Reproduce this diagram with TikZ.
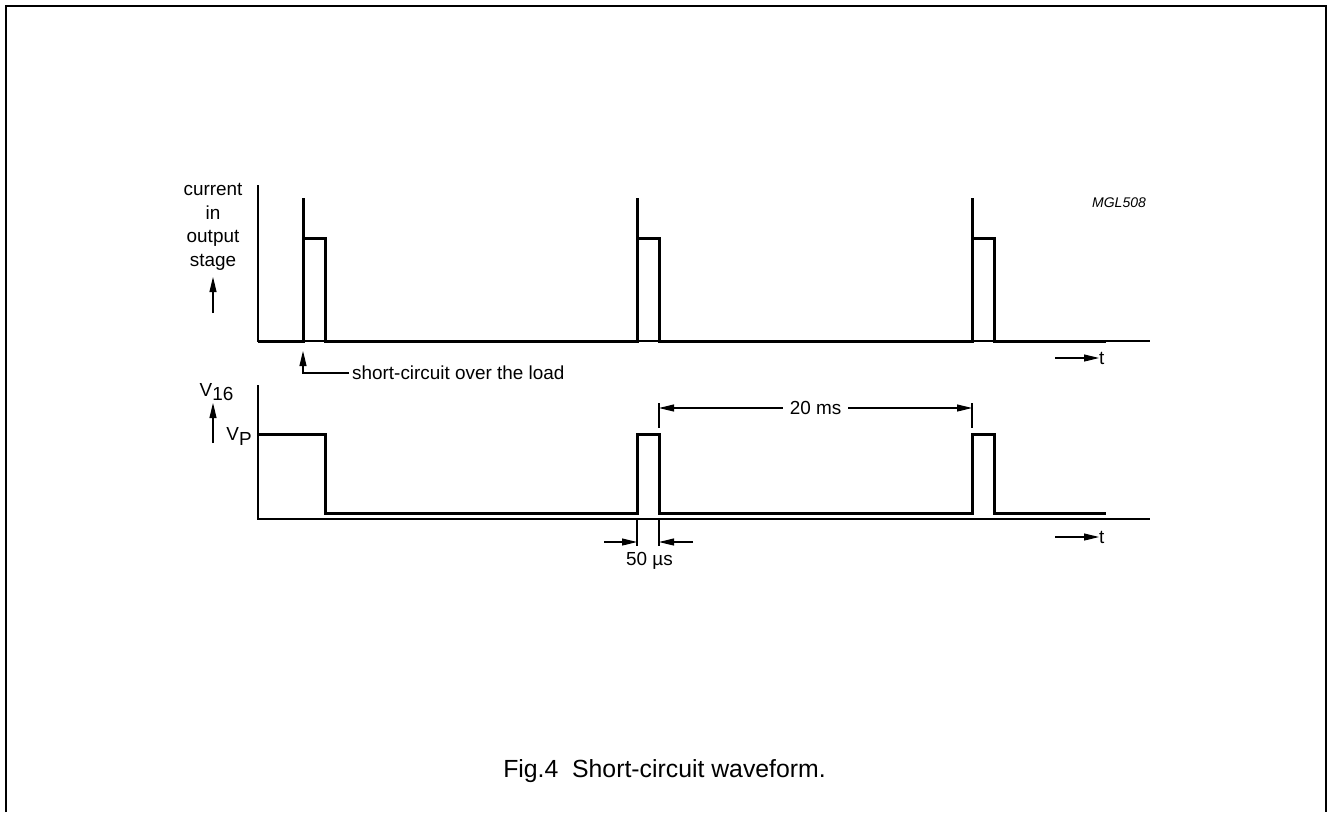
\documentclass[tikz,border=0pt]{standalone}
\usepackage{fontspec}
\setmainfont{Liberation Sans}
\usetikzlibrary{arrows.meta}
\begin{document}
\begin{tikzpicture}[
		x=1pt, y=-1pt,
		axis/.style={line width=1.4pt},
		wave/.style={line width=3pt, line join=miter},
		dim/.style={line width=1.1pt, -{Triangle[length=15pt,width=7pt]}},
		lbl/.style={font=\fontsize{18.9}{23.5}\selectfont, inner sep=0pt},
		captext/.style={font=\fontsize{24.8}{28}\selectfont, inner sep=0pt}
	]
	\useasboundingbox (0,0) rectangle (1327,812);
	% frame
	\draw[line width=2pt] (6,812) -- (6,6) -- (1326,6) -- (1326,812);
	% current in output stage
	\draw[axis] (258,185) -- (258,341) -- (1150,341);
	\draw[wave] (258,341)
		\foreach \p in {303,637,972} {
			-- (\p,341) -- (\p,198) (\p,238) -- ({\p+22},238) -- ({\p+22},341)
		} -- (1106,341);
	\node[lbl, align=center] (cur) at (213,227) {current\\in\\output\\stage};
	\coordinate (curA) at (213,313);
	\coordinate (curB) at (213,277);
	\draw[dim] (curA) -- (curB);
	\node[lbl] (mgl) at (1119,207) [anchor=base] {\fontsize{14}{16}\selectfont\itshape MGL508};
	\node[lbl, anchor=west] (t1) at (1099,358) {t};
	\coordinate (t1a) at (1055,358);
	\draw[dim] (t1a) -- (t1.west);
	% short-circuit
	\node[lbl, anchor=west, inner xsep=3pt] (sc) at (349,373) {short-circuit over the load};
	\coordinate (scT) at (303,351);
	\draw[dim] (sc.west) -| (scT);
	% V16
	\draw[axis] (258,385) -- (258,519) -- (1150,519);
	\draw[wave] (258,434) -- (325,434) -- (325,513)
		\foreach \p in {637,972} {
			-- (\p,513) -- (\p,434) -- ({\p+22},434) -- ({\p+22},513)
		} -- (1106,513);
	\node[lbl, anchor=base] (v16) at (216.5,396.5) {V\raisebox{-0.2em}{16}};
	\node[lbl, anchor=base] (vp) at (239,440) {V\raisebox{-0.3em}{P}};
	\coordinate (vA) at (213,443);
	\coordinate (vB) at (213,403);
	\draw[dim] (vA) -- (vB);
	\node[lbl, anchor=west] (t2) at (1099,537) {t};
	\coordinate (t2a) at (1055,537);
	\draw[dim] (t2a) -- (t2.west);
	% 20 ms
	\draw[line width=1.1pt] (659,403) -- (659,428) (972,403) -- (972,428);
	\node[lbl, inner xsep=7pt] (d20) at (815.5,408) {20 ms};
	\coordinate (d20l) at (659,408);
	\coordinate (d20r) at (972,408);
	\draw[dim] (d20.west) -- (d20l);
	\draw[dim] (d20.east) -- (d20r);
	% 50 us
	\draw[line width=1.1pt] (637,519) -- (637,546) (659,519) -- (659,546);
	\node[lbl, anchor=base] (d50) at (649.5,565) {50 µs};
	\coordinate (d50a) at (604,542);
	\coordinate (d50b) at (637,542);
	\coordinate (d50c) at (693,542);
	\coordinate (d50d) at (659,542);
	\draw[dim] (d50a) -- (d50b);
	\draw[dim] (d50c) -- (d50d);
	% caption
	\node[captext, anchor=base] (fig) at (664.5,777) {Fig.4\ \ Short-circuit waveform.};
\end{tikzpicture}
\end{document}
